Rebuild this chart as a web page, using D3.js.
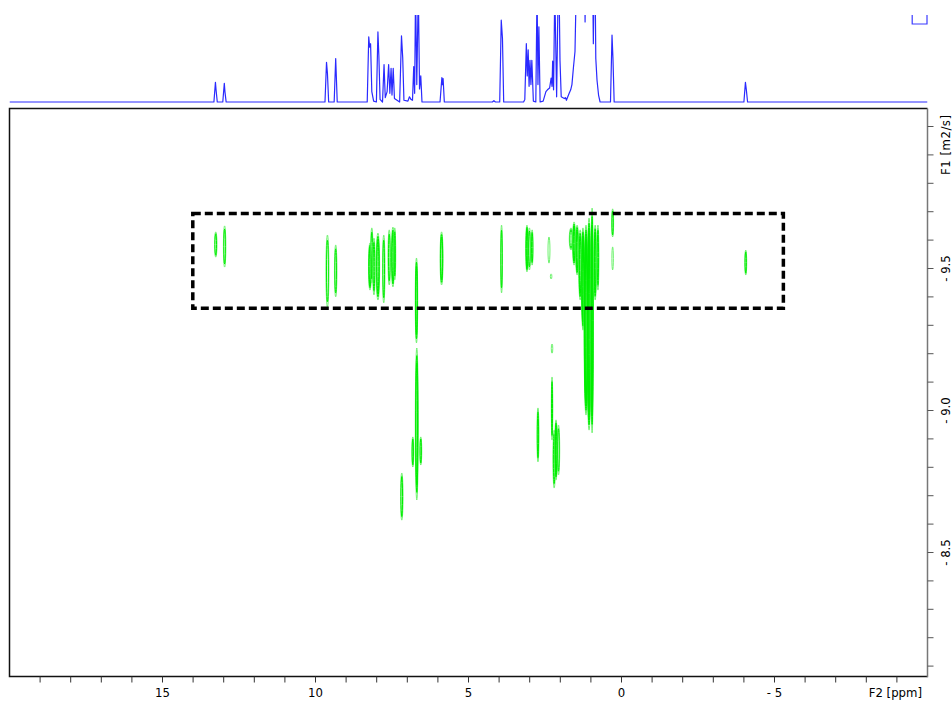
<!DOCTYPE html>
<html>
<head>
<meta charset="utf-8">
<script src="https://cdn.jsdelivr.net/npm/d3@7/dist/d3.min.js"></script>
<style>
  html, body { margin: 0; padding: 0; background: #ffffff; }
  svg { display: block; }
  text { font-family: "DejaVu Sans Condensed", "Liberation Sans Narrow", "DejaVu Sans", sans-serif; fill: #000; }
</style>
</head>
<body>
<svg id="chart" width="952" height="702"></svg>
<script>
// ---- data -------------------------------------------------------------
// F2 chemical-shift axis (ppm) and F1 diffusion axis (log D, m2/s)
const ppmDomain = [20, -10];
const logDDomain = [-10.0634, -8.0634];
const ppmMajorTicks = [15, 10, 5, 0, -5];
const ppmMinorTicks = d3.range(19, -10, -1);
const logDMajorTicks = [-9.5, -9.0, -8.5];
const logDMinorTicks = d3.range(-100, -80, 1).map(v => v / 10);

// 1D projection: [ppm, intensity] vertices (100 = full scale, higher values run off the top)
const projection = [
  [20, 0],
  [13.32, 0], [13.27, 22.6], [13.25, 14], [13.21, 0],
  [13.03, 0], [12.98, 21.5], [12.96, 12], [12.92, 0],
  [9.69, 0], [9.64, 45.6], [9.61, 33], [9.57, 0],
  [9.39, 0], [9.34, 50], [9.29, 0],
  [8.31, 0], [8.26, 75], [8.23, 63], [8.20, 67], [8.16, 12], [8.10, 1], [8.01, 0],
  [7.96, 80.5], [7.93, 54], [7.89, 3], [7.81, 0], [7.76, 43], [7.72, 5], [7.66, 12],
  [7.61, 43], [7.57, 10], [7.53, 38.7], [7.50, 8], [7.46, 38.7], [7.42, 4], [7.25, 0],
  [7.19, 76], [7.15, 51], [7.11, 2], [6.98, 1], [6.93, 6], [6.88, 3], [6.83, 2],
  [6.79, 40.6], [6.76, 10], [6.73, 130], [6.69, 20], [6.64, 130], [6.60, 15],
  [6.56, 30], [6.52, 0],
  [5.93, 0], [5.87, 28], [5.85, 20], [5.83, 27], [5.79, 0],
  [4.22, 0], [4.17, 1.5], [4.12, 0],
  [3.98, 0], [3.93, 94], [3.89, 73], [3.85, 0],
  [3.20, 0], [3.16, 3], [3.11, 67], [3.08, 30], [3.05, 60], [3.02, 18], [2.99, 48],
  [2.96, 20], [2.93, 48], [2.88, 1], [2.80, 0], [2.76, 130], [2.73, 20], [2.70, 86.5],
  [2.66, 0], [2.56, 1], [2.47, 12], [2.42, 14], [2.35, 16], [2.30, 27.5], [2.27, 18],
  [2.25, 47], [2.22, 14], [2.18, 130], [2.12, 6], [2.07, 130], [2.04, 130], [2.01, 48],
  [1.97, 6], [1.87, 4], [1.83, 5], [1.80, 2], [1.71, 10], [1.66, 14], [1.62, 20],
  [1.57, 40], [1.52, 58], [1.48, 130], [1.20, 130], [1.19, 92], [1.18, 130],
  [0.94, 130], [0.92, 67], [0.90, 130], [0.86, 130], [0.84, 50], [0.80, 25],
  [0.75, 8], [0.70, 0],
  [0.36, 0], [0.31, 77], [0.28, 51], [0.24, 0],
  [-4.00, 0], [-4.05, 22.6], [-4.08, 14], [-4.12, 0],
  [-10, 0]
];

// 2D cross peaks: [ppm, logD top, logD bottom, half width (ppm), contour levels]
const crossPeaks = [
  [13.26, -9.629, -9.540, 0.05, 2],
  [12.97, -9.650, -9.505, 0.05, 2],
  [9.61, -9.618, -9.364, 0.06, 2],
  [9.34, -9.583, -9.400, 0.05, 2],
  [8.22, -9.590, -9.424, 0.06, 3],
  [8.16, -9.643, -9.449, 0.05, 2],
  [8.09, -9.607, -9.407, 0.05, 2],
  [7.96, -9.625, -9.389, 0.07, 3],
  [7.77, -9.618, -9.379, 0.05, 2],
  [7.59, -9.636, -9.442, 0.05, 2],
  [7.47, -9.646, -9.435, 0.06, 3],
  [7.41, -9.643, -9.460, 0.04, 2],
  [6.70, -9.537, -9.238, 0.05, 3],
  [6.69, -9.220, -8.685, 0.06, 3],
  [6.82, -8.907, -8.801, 0.04, 2],
  [6.56, -8.907, -8.808, 0.04, 2],
  [7.18, -8.780, -8.614, 0.05, 2],
  [5.88, -9.629, -9.442, 0.06, 3],
  [3.92, -9.653, -9.414, 0.04, 2],
  [3.09, -9.653, -9.488, 0.05, 3],
  [3.01, -9.643, -9.495, 0.05, 2],
  [2.92, -9.636, -9.512, 0.04, 2],
  [2.37, -9.611, -9.519, 0.04, 1],
  [2.30, -9.481, -9.463, 0.03, 1],
  [2.73, -9.009, -8.819, 0.04, 2],
  [2.27, -9.234, -9.202, 0.03, 1],
  [2.27, -9.118, -8.896, 0.03, 2],
  [2.20, -8.931, -8.727, 0.05, 2],
  [2.14, -8.967, -8.755, 0.05, 3],
  [2.06, -8.949, -8.773, 0.05, 2],
  [1.65, -9.643, -9.565, 0.07, 2],
  [1.55, -9.664, -9.512, 0.06, 3],
  [1.45, -9.653, -9.477, 0.06, 3],
  [1.35, -9.636, -9.389, 0.06, 3],
  [1.26, -9.643, -9.283, 0.06, 4],
  [1.16, -9.653, -8.984, 0.08, 6],
  [1.06, -9.678, -8.931, 0.08, 6],
  [0.96, -9.713, -8.921, 0.05, 4],
  [0.86, -9.653, -9.389, 0.05, 3],
  [0.77, -9.653, -9.424, 0.04, 2],
  [0.29, -9.710, -9.611, 0.04, 2],
  [0.29, -9.576, -9.495, 0.03, 1],
  [-4.06, -9.565, -9.477, 0.04, 2]
];

// highlighted diffusion band: [ppm left, ppm right, logD top, logD bottom]
const bandRegion = [14.01, -5.29, -9.694, -9.360];

// ---- layout -----------------------------------------------------------
const svg = d3.select("#chart");
const plot = { left: 9.5, right: 927.5, top: 108.5, bottom: 676.5 };
const proj = { top: 15, base: 102 };

const x = d3.scaleLinear().domain(ppmDomain).range([plot.left, plot.right]);
const y = d3.scaleLinear().domain(logDDomain).range([plot.top, plot.bottom]);
const yProj = d3.scaleLinear().domain([0, 100]).range([proj.base, proj.top]);

const fmt = v => (v < 0 ? "- " + d3.format("")(Math.abs(v)) : String(v));
const fmt1 = v => (v < 0 ? "- " + d3.format(".1f")(Math.abs(v)) : d3.format(".1f")(v));

// ---- 1D projection on top ----------------------------------------------
svg.append("clipPath").attr("id", "projClip")
  .append("rect")
  .attr("x", plot.left).attr("y", proj.top)
  .attr("width", plot.right - plot.left).attr("height", proj.base - proj.top + 2);

svg.append("path")
  .datum(projection)
  .attr("clip-path", "url(#projClip)")
  .attr("fill", "none")
  .attr("stroke", "#2a2aff")
  .attr("stroke-width", 1.2)
  .attr("stroke-linejoin", "round")
  .attr("d", d3.line().x(d => x(d[0])).y(d => yProj(d[1])));

// small open marker at the right end of the projection strip
svg.append("path")
  .attr("fill", "none")
  .attr("stroke", "#3a3aff")
  .attr("stroke-width", 1.2)
  .attr("d", `M${x(-9.5)},${proj.top}V${proj.top + 9}H${x(-10) - 0.5}V${proj.top}`);

// ---- contour plot -----------------------------------------------------
svg.append("clipPath").attr("id", "plotClip")
  .append("rect")
  .attr("x", plot.left).attr("y", plot.top)
  .attr("width", plot.right - plot.left).attr("height", plot.bottom - plot.top);

const contours = svg.append("g").attr("clip-path", "url(#plotClip)");

crossPeaks.forEach(p => {
  const [ppm, top, bottom, hw, levels] = p;
  const cx = x(ppm);
  const cy = (y(top) + y(bottom)) / 2;
  const rx0 = Math.abs(x(ppm + hw) - x(ppm)) * 0.8;
  const ry0 = (y(bottom) - y(top)) / 2;
  d3.range(levels).forEach(i => {
    const t = levels > 1 ? i / levels : 0;
    contours.append("ellipse")
      .attr("cx", cx).attr("cy", cy)
      .attr("rx", Math.max(0.5, rx0 * (1 - 0.75 * t)))
      .attr("ry", ry0 * (1 - 0.3 * t))
      .attr("fill", "none")
      .attr("stroke", i === 0 ? "#6ef26e" : "#00ee00")
      .attr("stroke-width", 1);
  });
});

// dashed band annotation
svg.append("rect")
  .attr("x", x(bandRegion[0]))
  .attr("y", y(bandRegion[2]))
  .attr("width", x(bandRegion[1]) - x(bandRegion[0]))
  .attr("height", y(bandRegion[3]) - y(bandRegion[2]))
  .attr("fill", "none")
  .attr("stroke", "#000")
  .attr("stroke-width", 3.5)
  .attr("stroke-dasharray", "8,4");

// ---- frame --------------------------------------------------------------
svg.append("path")
  .attr("fill", "none").attr("stroke", "#111").attr("stroke-width", 1.5)
  .attr("d", `M${plot.right},${plot.top}H${plot.left}V${plot.bottom}H${plot.right}`);
svg.append("line")
  .attr("x1", plot.right).attr("x2", plot.right)
  .attr("y1", plot.top).attr("y2", plot.bottom + 0.75)
  .attr("stroke", "#777").attr("stroke-width", 1.5);

// ---- bottom axis (F2) ----------------------------------------------------
const xAxis = svg.append("g");
xAxis.selectAll("line.minor").data(ppmMinorTicks).join("line")
  .attr("x1", d => x(d)).attr("x2", d => x(d))
  .attr("y1", plot.bottom).attr("y2", plot.bottom + 6)
  .attr("stroke", "#333").attr("stroke-width", 1);
xAxis.selectAll("text").data(ppmMajorTicks).join("text")
  .attr("x", d => x(d)).attr("y", 697)
  .attr("text-anchor", "middle")
  .attr("font-size", 13)
  .text(fmt);
svg.append("text")
  .attr("x", 922).attr("y", 697)
  .attr("text-anchor", "end")
  .attr("font-size", 13)
  .text("F2 [ppm]");

// ---- right axis (F1) -----------------------------------------------------
const yAxis = svg.append("g");
yAxis.selectAll("line").data(logDMinorTicks).join("line")
  .attr("x1", plot.right).attr("x2", plot.right + 6)
  .attr("y1", d => y(d)).attr("y2", d => y(d))
  .attr("stroke", "#555").attr("stroke-width", 1);
yAxis.selectAll("text").data(logDMajorTicks).join("text")
  .attr("transform", d => `translate(950,${y(d)}) rotate(-90)`)
  .attr("text-anchor", "middle")
  .attr("font-size", 13)
  .text(fmt1);
svg.append("text")
  .attr("transform", `translate(950,${(y(-10.0) + y(-9.9)) / 2 + 4}) rotate(-90)`)
  .attr("text-anchor", "middle")
  .attr("font-size", 13)
  .attr("letter-spacing", 0.5)
  .text("F1 [m2/s]");
</script>
</body>
</html>
